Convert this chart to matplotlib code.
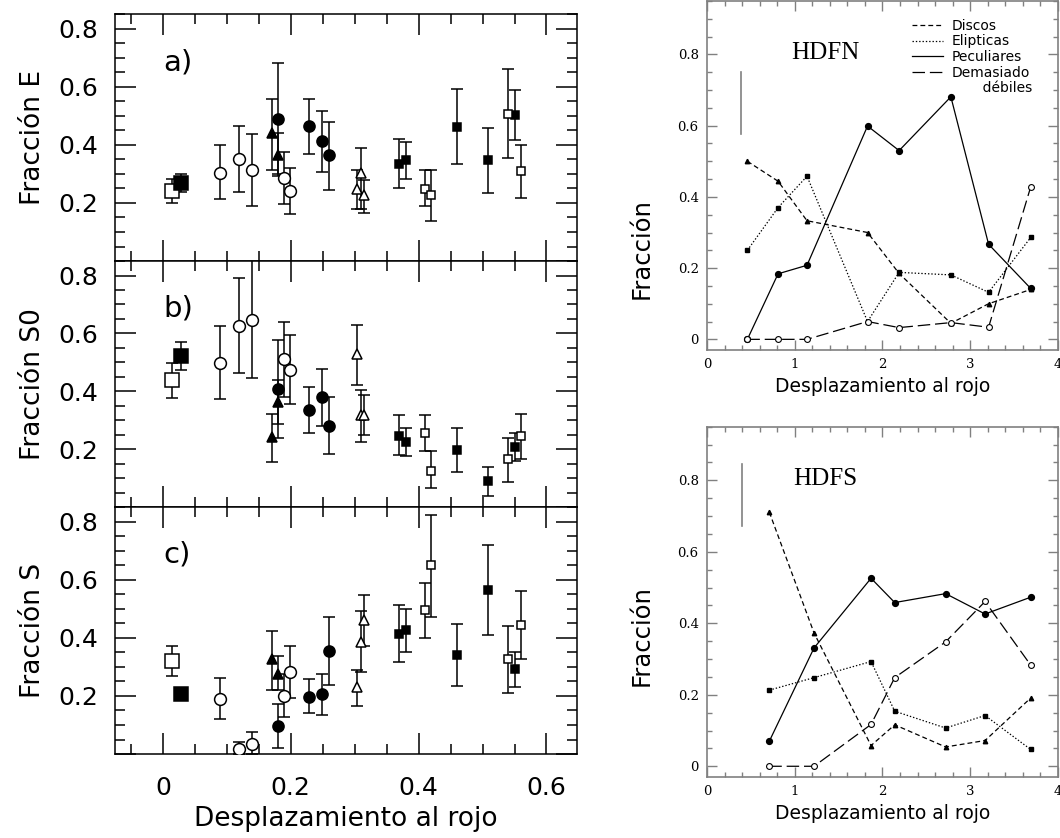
import numpy as np
import matplotlib
matplotlib.use('Agg')
import matplotlib.pyplot as plt
from matplotlib.lines import Line2D
from matplotlib.ticker import MultipleLocator

plt.rcParams['font.family'] = ['DejaVu Sans']
plt.rcParams['lines.scale_dashes'] = False

# ---------------- left: morphological fractions vs redshift ----------------
z_pts = [0.014, 0.029, 0.090, 0.119, 0.139, 0.170, 0.180, 0.180, 0.189, 0.199,
         0.229, 0.249, 0.260, 0.304, 0.310, 0.315, 0.370, 0.380, 0.410, 0.420,
         0.460, 0.509, 0.540, 0.550, 0.560]
grupo = ['osq_big', 'fsq_big', 'ocirc', 'ocirc', 'ocirc', 'ftri', 'ftri', 'fcirc',
         'ocirc', 'ocirc', 'fcirc', 'fcirc', 'fcirc', 'otri', 'otri', 'otri',
         'fsq', 'fsq', 'osq', 'osq', 'fsq', 'fsq', 'osq', 'fsq', 'osq']

# a) Fraccion E
frac_e = [0.241, 0.269, 0.304, 0.350, 0.312, 0.439, 0.364, 0.490, 0.286, 0.241,
          0.465, 0.412, 0.364, 0.249, 0.302, 0.226, 0.335, 0.347, 0.249, 0.226,
          0.462, 0.347, 0.507, 0.502, 0.309]
frac_e_lo = [0.200, 0.238, 0.213, 0.239, 0.189, 0.312, 0.300, 0.293, 0.198, 0.161,
             0.367, 0.308, 0.246, 0.180, 0.180, 0.167, 0.253, 0.283, 0.189, 0.138,
             0.333, 0.234, 0.356, 0.418, 0.218]
frac_e_hi = [0.284, 0.299, 0.398, 0.464, 0.436, 0.559, 0.440, 0.683, 0.376, 0.320,
             0.559, 0.518, 0.479, 0.312, 0.389, 0.278, 0.421, 0.411, 0.312, 0.315,
             0.591, 0.458, 0.662, 0.587, 0.400]

# b) Fraccion S0
frac_s0 = [0.438, 0.521, 0.498, 0.626, 0.647, 0.241, 0.363, 0.409, 0.510, 0.475,
           0.335, 0.381, 0.281, 0.529, 0.318, 0.318, 0.247, 0.226, 0.256, 0.126,
           0.197, 0.090, 0.166, 0.208, 0.246]
frac_s0_lo = [0.375, 0.475, 0.373, 0.464, 0.446, 0.154, 0.238, 0.287, 0.381, 0.355,
              0.256, 0.281, 0.183, 0.421, 0.223, 0.249, 0.178, 0.177, 0.194, 0.064,
              0.120, 0.038, 0.088, 0.158, 0.166]
frac_s0_hi = [0.497, 0.569, 0.626, 0.790, 0.900, 0.323, 0.438, 0.578, 0.638, 0.594,
              0.413, 0.478, 0.381, 0.630, 0.403, 0.386, 0.317, 0.274, 0.319, 0.192,
              0.272, 0.139, 0.240, 0.255, 0.323]

# c) Fraccion S
frac_s = [0.320, 0.205, 0.191, 0.018, 0.035, 0.327, 0.277, 0.096, 0.200, 0.281,
          0.197, 0.205, 0.355, 0.229, 0.387, 0.462, 0.413, 0.427, 0.494, 0.649,
          0.341, 0.566, 0.326, 0.291, 0.445]
frac_s_lo = [0.269, 0.190, 0.119, 0.000, 0.000, 0.220, 0.220, 0.022, 0.127, 0.194,
             0.141, 0.135, 0.239, 0.165, 0.281, 0.372, 0.318, 0.352, 0.398, 0.473,
             0.233, 0.410, 0.210, 0.229, 0.327]
frac_s_hi = [0.372, 0.225, 0.262, 0.040, 0.075, 0.425, 0.338, 0.173, 0.275, 0.370,
             0.257, 0.275, 0.470, 0.289, 0.491, 0.546, 0.514, 0.500, 0.589, 0.822,
             0.448, 0.718, 0.441, 0.352, 0.562]

# ---------------- right: HDFN / HDFS ----------------
hdfn_z = [0.46, 0.81, 1.14, 1.83, 2.19, 2.78, 3.21, 3.69]
hdfn_discos = [0.500, 0.444, 0.333, 0.300, 0.185, 0.045, 0.100, 0.140]
hdfn_elip = [0.250, 0.370, 0.458, 0.050, 0.188, 0.181, 0.132, 0.286]
hdfn_pec = [0.000, 0.184, 0.208, 0.599, 0.530, 0.681, 0.267, 0.143]
hdfn_debil = [0.000, 0.000, 0.000, 0.050, 0.033, 0.047, 0.034, 0.428]
hdfn_barra = [0.39, 0.577, 0.750]

hdfs_z = [0.71, 1.22, 1.87, 2.14, 2.72, 3.17, 3.69]
hdfs_discos = [0.711, 0.373, 0.058, 0.116, 0.054, 0.072, 0.191]
hdfs_elip = [0.213, 0.248, 0.293, 0.154, 0.107, 0.142, 0.047]
hdfs_pec = [0.070, 0.331, 0.526, 0.458, 0.483, 0.426, 0.473]
hdfs_debil = [0.000, 0.000, 0.117, 0.248, 0.348, 0.461, 0.283]
hdfs_barra = [0.40, 0.672, 0.845]

leyenda = ['Discos', 'Elipticas', 'Peculiares', 'Demasiado', '       débiles']

estilos = {
    'osq_big': dict(marker='s', ms=10, mfc='white'),
    'fsq_big': dict(marker='s', ms=10, mfc='black'),
    'ocirc': dict(marker='o', ms=8.5, mfc='white'),
    'fcirc': dict(marker='o', ms=8, mfc='black'),
    'ftri': dict(marker='^', ms=6.5, mfc='black'),
    'otri': dict(marker='^', ms=7.5, mfc='white'),
    'fsq': dict(marker='s', ms=5.5, mfc='black'),
    'osq': dict(marker='s', ms=6, mfc='white'),
}

fig = plt.figure(figsize=(10.6, 8.38), dpi=100)

paneles = [
    ([0.1085, 0.6885, 0.436, 0.2947], frac_e, frac_e_lo, frac_e_hi, 'Fracción E', 'a)'),
    ([0.1085, 0.3950, 0.436, 0.2935], frac_s0, frac_s0_lo, frac_s0_hi, 'Fracción S0', 'b)'),
    ([0.1085, 0.1002, 0.436, 0.2948], frac_s, frac_s_lo, frac_s_hi, 'Fracción S', 'c)'),
]

z_arr = np.array(z_pts)
g_arr = np.array(grupo)
for i, (pos, y, lo, hi, ylab, letra) in enumerate(paneles):
    ax = fig.add_axes(pos)
    y = np.array(y); lo = np.array(lo); hi = np.array(hi)
    for g, st in estilos.items():
        m = g_arr == g
        ax.errorbar(z_arr[m], y[m], yerr=[y[m] - lo[m], hi[m] - y[m]],
                    fmt='none', ecolor='black', elinewidth=1.1, capsize=4.5,
                    capthick=1.1, zorder=2)
        ax.plot(z_arr[m], y[m], ls='none', marker=st['marker'], ms=st['ms'],
                mfc=st['mfc'], mec='black', mew=1.1, zorder=3)
    ax.set_xlim(-0.075, 0.648)
    ax.set_ylim(0, 0.85)
    ax.xaxis.set_major_locator(MultipleLocator(0.2))
    ax.xaxis.set_minor_locator(MultipleLocator(0.05))
    ax.set_yticks([0, 0.2, 0.4, 0.6, 0.8])
    ax.set_yticklabels(['', '0.2', '0.4', '0.6', '0.8'])
    ax.yaxis.set_minor_locator(MultipleLocator(0.05))
    ax.tick_params(which='both', direction='in', top=True, right=True, width=1.1,
                   labelsize=18, colors='black')
    ax.tick_params(which='major', length=15)
    ax.tick_params(which='minor', length=7.5)
    ax.tick_params(axis='y', pad=12)
    ax.tick_params(axis='x', pad=16)
    for s in ax.spines.values():
        s.set_linewidth(1.1)
    ax.set_ylabel(ylab, fontsize=19, labelpad=9)
    ax.text(0.0, 0.685, letra, fontsize=21, ha='left', va='center')
    if i < 2:
        ax.tick_params(axis='x', labelbottom=False)
    else:
        ax.set_xticks([0, 0.2, 0.4, 0.6])
        ax.set_xticklabels(['0', '0.2', '0.4', '0.6'])
        ax.set_xlabel('Desplazamiento al rojo', fontsize=19, labelpad=4)

# right panels
gris = '#808080'
derechos = [
    ([0.667, 0.5823, 0.331, 0.4165], 'HDFN', hdfn_z, hdfn_discos, hdfn_elip, hdfn_pec, hdfn_debil, hdfn_barra, 0.29),
    ([0.667, 0.0728, 0.331, 0.4180], 'HDFS', hdfs_z, hdfs_discos, hdfs_elip, hdfs_pec, hdfs_debil, hdfs_barra, 0.405),
]
for j, (pos, nombre, zz, dis, eli, pec, deb, barra, ylab_y) in enumerate(derechos):
    ax = fig.add_axes(pos)
    ax.plot(zz, dis, color='black', lw=0.9, dashes=(3.5, 2.2), marker='^', ms=3.2,
            mfc='black', mec='black')
    ax.plot(zz, eli, color='black', lw=0.9, dashes=(1, 1.4), marker='s', ms=3.2,
            mfc='black', mec='black')
    ax.plot(zz, pec, color='black', lw=0.9, ls='-', marker='o', ms=4.2,
            mfc='black', mec='black')
    ax.plot(zz, deb, color='black', lw=0.9, dashes=(9, 3.5), marker='o', ms=4.2,
            mfc='white', mec='black', mew=0.8)
    ax.plot([barra[0], barra[0]], [barra[1], barra[2]], color=gris, lw=1.2)
    ax.text(1.35, 0.805, nombre, family='Liberation Serif', fontsize=18,
            ha='center', va='center')
    ax.set_xlim(0, 4)
    ax.set_ylim(-0.03, 0.95)
    ax.xaxis.set_major_locator(MultipleLocator(1))
    ax.xaxis.set_minor_locator(MultipleLocator(0.2))
    ax.set_yticks([0, 0.2, 0.4, 0.6, 0.8])
    ax.set_yticklabels(['0', '0.2', '0.4', '0.6', '0.8'])
    ax.yaxis.set_minor_locator(MultipleLocator(0.05))
    ax.tick_params(which='both', direction='in', top=True, right=True, width=1.0,
                   color=gris, labelsize=9.5, pad=6)
    ax.tick_params(which='major', length=7)
    ax.tick_params(which='minor', length=3.5)
    for lab in ax.get_xticklabels() + ax.get_yticklabels():
        lab.set_family('DejaVu Serif')
    for s in ax.spines.values():
        s.set_color(gris)
        s.set_linewidth(1.2)
    ax.set_ylabel('Fracción', fontsize=17.5)
    ax.yaxis.set_label_coords(-0.152, ylab_y)
    ax.set_xlabel('Desplazamiento al rojo', fontsize=13.5, labelpad=4)
    if j == 0:
        handles = [Line2D([], [], color='black', lw=0.9, dashes=(3.5, 2.2)),
                   Line2D([], [], color='black', lw=0.9, dashes=(1, 1.4)),
                   Line2D([], [], color='black', lw=0.9, ls='-'),
                   Line2D([], [], color='black', lw=0.9, dashes=(9, 3.5)),
                   Line2D([], [], ls='none')]
        ax.legend(handles, leyenda, loc='upper right', bbox_to_anchor=(0.966, 0.989),
                  frameon=False, fontsize=10, handlelength=2.3, handletextpad=0.6,
                  labelspacing=0.12, borderaxespad=0.6)

fig.savefig('out.png', dpi=100)
